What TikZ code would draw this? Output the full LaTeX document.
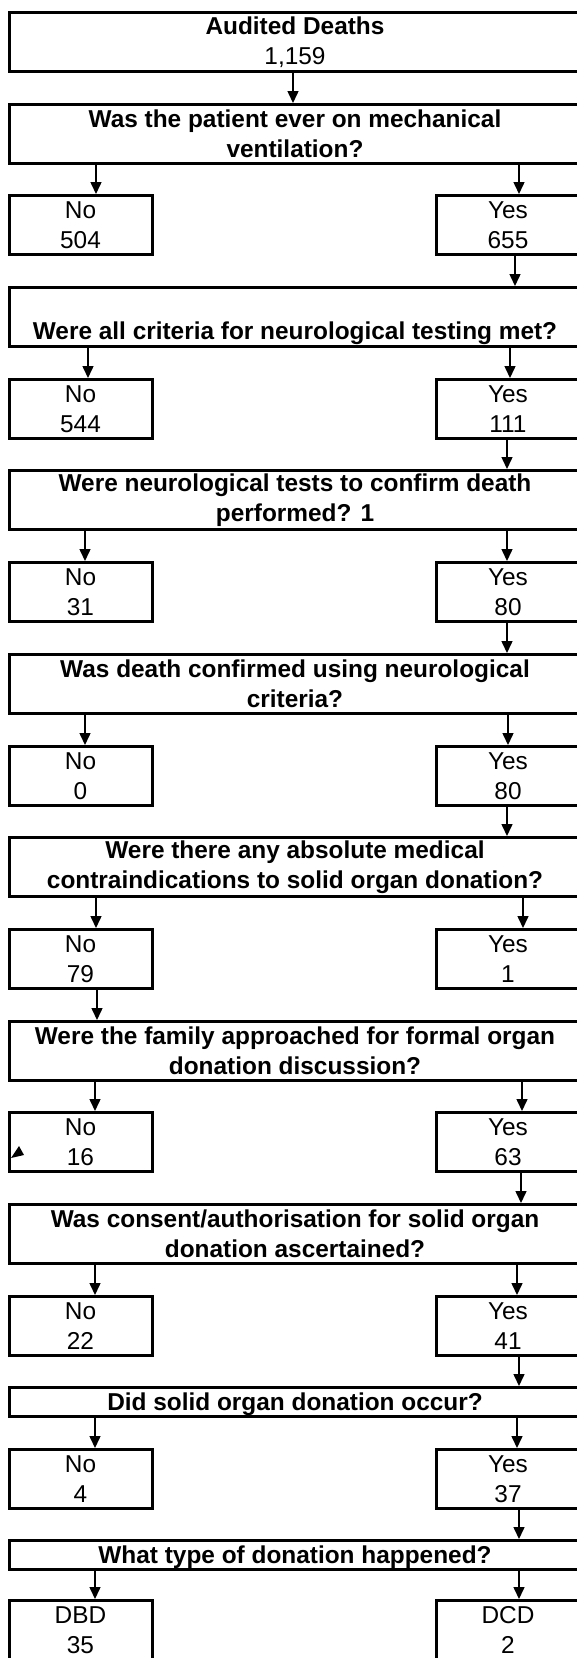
\documentclass[tikz,border=0pt]{standalone}
\usepackage{fontspec}
\setmainfont{Liberation Sans}
\usetikzlibrary{arrows.meta}

\newcommand\chartfont{\fontsize{24.4pt}{30pt}\selectfont}

\tikzset{
  qbox/.style = {draw, line width=3pt, minimum width=572pt, minimum height=59pt,
                 inner sep=0pt, align=center, font=\chartfont\bfseries},
  abox/.style = {draw, line width=3pt, minimum width=143pt, minimum height=59pt,
                 inner sep=0pt, align=center, font=\chartfont},
  arr/.style  = {line width=1.5pt, -{Triangle[length=12pt,width=11pt]}}
}

\begin{document}
\begin{tikzpicture}[x=1pt, y=-1pt]
\fill [white] (0,0) rectangle (577,1658);
\useasboundingbox (0,0) rectangle (577,1658);

% questions and answers
\node [qbox] (q0) at (295,42) {Audited Deaths\\\mdseries 1,159};
\node [qbox] (q1) at (295,134) {Was the patient ever on mechanical\\ventilation?};
\node [abox] (n1) at (80.5,225) {No\\504};
\node [abox] (y1) at (508,225) {Yes\\655};
\node [qbox] (q2) at (295,317) {\strut\\Were all criteria for neurological testing met?};
\node [abox] (n2) at (80.5,409) {No\\544};
\node [abox] (y2) at (508,409) {Yes\\111};
\node [qbox] (q3) at (295,500) {Were neurological tests to confirm death\\performed? 1};
\node [abox] (n3) at (80.5,592) {No\\31};
\node [abox] (y3) at (508,592) {Yes\\80};
\node [qbox] (q4) at (295,684) {Was death confirmed using neurological\\criteria?};
\node [abox] (n4) at (80.5,776) {No\\0};
\node [abox] (y4) at (508,776) {Yes\\80};
\node [qbox] (q5) at (295,867) {Were there any absolute medical\\contraindications to solid organ donation?};
\node [abox] (n5) at (80.5,959) {No\\79};
\node [abox] (y5) at (508,959) {Yes\\1};
\node [qbox] (q6) at (295,1051) {Were the family approached for formal organ\\donation discussion?};
\node [abox] (n6) at (80.5,1142) {No\\16};
\node [abox] (y6) at (508,1142) {Yes\\63};
\node [qbox] (q7) at (295,1234) {Was consent/authorisation for solid organ\\donation ascertained?};
\node [abox] (n7) at (80.5,1326) {No\\22};
\node [abox] (y7) at (508,1326) {Yes\\41};
\node [qbox, minimum height=29pt, text depth=0pt] (q8) at (295,1402) {Did solid organ donation occur?};
\node [abox] (n8) at (80.5,1479) {No\\4};
\node [abox] (y8) at (508,1479) {Yes\\37};
\node [qbox, minimum height=29pt, text depth=0pt] (q9) at (295,1555) {What type of donation happened?};
\node [abox] (n9) at (80.5,1630) {DBD\\35};
\node [abox] (y9) at (508,1630) {DCD\\2};

% arrows
\draw [arr] (q0.south -| 293,0) -- (q1.north -| 293,0);
\foreach \i/\xl/\xr in {1/96/519, 2/88/510, 3/85/507, 4/85/508, 5/96/523,
                        6/95/522, 7/95/517, 8/95/517, 9/95/519}
{
  \draw [arr] (q\i.south -| \xl,0) -- (n\i.north -| \xl,0);
  \draw [arr] (q\i.south -| \xr,0) -- (y\i.north -| \xr,0);
}
\foreach \a/\b/\xc in {y1/q2/515, y2/q3/507, y3/q4/507, y4/q5/507, n5/q6/97,
                       y6/q7/521, y7/q8/519, y8/q9/519}
  \draw [arr] (\a.south -| \xc,0) -- (\b.north -| \xc,0);

\fill (19,1146) -- (11,1158) -- (24,1155) -- cycle;
\end{tikzpicture}
\end{document}
